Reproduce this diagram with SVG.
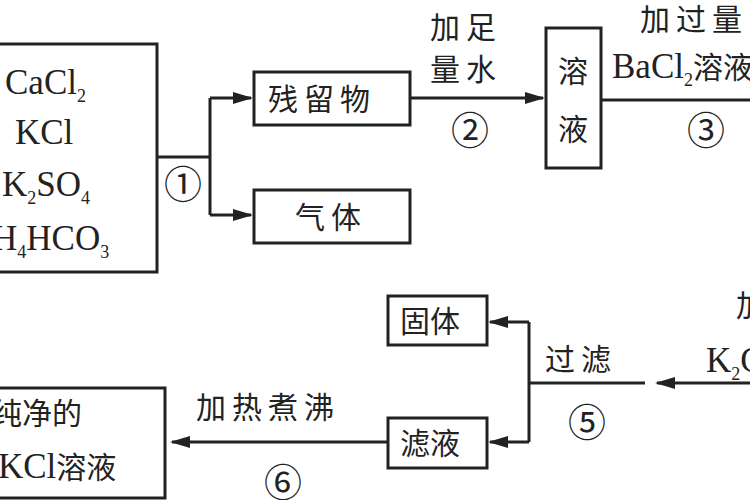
<svg xmlns="http://www.w3.org/2000/svg" width="750" height="500" viewBox="0 0 750 500">
<style>
.b{fill:#fff;stroke:#222;stroke-width:3}
.l{fill:none;stroke:#222;stroke-width:3}
text{font-family:"Liberation Serif","Noto Sans CJK SC",serif;font-size:30px;fill:#222}
.f{font-size:35px}
.c{letter-spacing:6px}
.s{font-size:18px}
.n{font-size:38px}
</style>
<defs><marker id="m" viewBox="0 0 10 10" refX="9" refY="5" markerWidth="20" markerHeight="12" markerUnits="userSpaceOnUse" orient="auto" preserveAspectRatio="none"><path d="M0,0L10,5L0,10z" fill="#222"/></marker></defs>
<rect width="750" height="500" fill="#fff"/>
<g id="mix"><rect class="b" x="-10" y="44" width="167" height="228"/>
<text class="f" x="5" y="94">CaCl<tspan class="s" dy="8">2</tspan></text>
<text class="f" x="15" y="144">KCl</text>
<text class="f" x="2" y="196">K<tspan class="s" dy="8">2</tspan><tspan dy="-8">SO</tspan><tspan class="s" dy="8">4</tspan></text>
<text class="f" x="-8" y="250">H<tspan class="s" dy="8">4</tspan><tspan dy="-8">HCO</tspan><tspan class="s" dy="8">3</tspan></text></g>
<g id="residue"><rect class="b" x="254" y="72" width="156" height="53"/><text class="c" x="268" y="110" font-size="28">残留物</text></g>
<g id="gas"><rect class="b" x="254" y="190" width="156" height="53"/><text class="c" x="295" y="228">气体</text></g>
<g id="sol"><rect class="b" x="546" y="28" width="55" height="140"/><text x="558" y="82">溶</text><text x="558" y="140">液</text></g>
<g id="solid"><rect class="b" x="388" y="296" width="99" height="49"/><text x="400" y="332">固体</text></g>
<g id="filtrate"><rect class="b" x="388" y="418" width="99" height="50"/><text x="400" y="454">滤液</text></g>
<g id="kcl"><rect class="b" x="-10" y="388" width="175" height="110"/><text x="-8" y="424">纯净的</text><text x="-2" y="478"><tspan class="f">KCl</tspan>溶液</text></g>
<g id="connectors">
<path class="l" d="M157,157H210M210,98V215"/>
<path class="l" d="M210,98H251" marker-end="url(#m)"/>
<path class="l" d="M210,215H251" marker-end="url(#m)"/>
<path class="l" d="M410,98H543" marker-end="url(#m)"/>
<path class="l" d="M601,100H750"/>
<path class="l" d="M750,383H657" marker-end="url(#m)"/>
<path class="l" d="M645,383H529M529,322V442"/>
<path class="l" d="M529,322H490" marker-end="url(#m)"/>
<path class="l" d="M529,442H490" marker-end="url(#m)"/>
<path class="l" d="M388,442H172" marker-end="url(#m)"/>
</g>
<g id="labels">
<text class="n" x="164" y="198">①</text>
<text class="c" x="430" y="38">加足</text><text class="c" x="430" y="80">量水</text>
<text class="n" x="451" y="144">②</text>
<text class="c" x="640" y="30">加过量</text>
<text class="f" x="612" y="78">BaCl<tspan class="s" dy="8">2</tspan><tspan dy="-8" font-size="30">溶液</tspan></text>
<text class="n" x="687" y="144">③</text>
<text x="736" y="316">加</text>
<text class="f" x="706" y="372">K<tspan class="s" dy="8">2</tspan><tspan dy="-8">CO</tspan></text>
<text class="c" x="545" y="370">过滤</text>
<text class="n" x="568" y="436">⑤</text>
<text class="c" x="196" y="418">加热煮沸</text>
<text class="n" x="264" y="496">⑥</text>
</g>
</svg>
